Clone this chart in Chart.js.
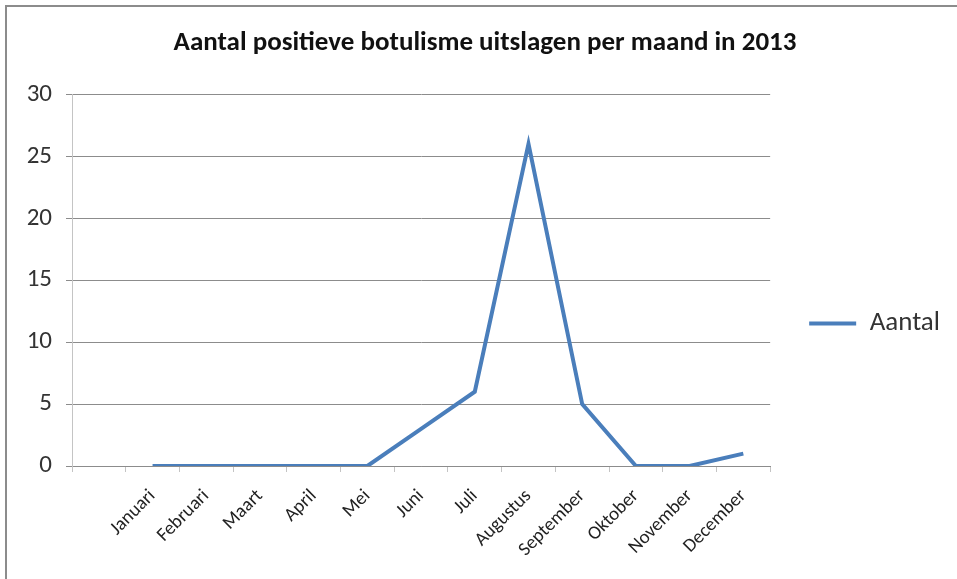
<!DOCTYPE html>
<html>
<head>
<meta charset="utf-8">
<script src="https://cdn.jsdelivr.net/npm/chart.js@4"></script>
<style>
  html, body { margin: 0; padding: 0; background: #fff; }
  #wrap { position: relative; width: 957px; height: 579px; overflow: hidden; }
  #frame { position: absolute; left: 5px; top: 5px; width: 1000px; height: 1000px; border: 2px solid #8c8c8c; box-sizing: border-box; }
  canvas { position: absolute; left: 0; top: 0; }
</style>
</head>
<body>
<div id="wrap">
  <div id="frame"></div>
  <canvas id="graph0" width="950" height="579"></canvas>
</div>
<script>
const months = ["Januari","Februari","Maart","April","Mei","Juni","Juli","Augustus","September","Oktober","November","December"]
const aantal = [0,0,0,0,0,3,6,26,5,0,0,1]
const yTicks = [0,5,10,15,20,25,30]

const titleText = "Aantal positieve botulisme uitslagen per maand in 2013"
const seriesName = "Aantal"
const lineColor = "#4a7ebb"
const gridColor = "#8c8c8c"
const axisColor = "#c4c4c4"
const textColor = "#333"
const font = "Calibri, Carlito, 'Open Sans', sans-serif"

// Excel left an empty slot before Januari
let labels = [""].concat(months)
let values = [null].concat(aantal)

function main(){
    new Chart("graph0", {
        type: "line",
        data: {
            labels: labels,
            datasets: [{
                label: seriesName,
                data: values,
                borderColor: lineColor,
                backgroundColor: lineColor,
                borderWidth: 4,
                pointRadius: 0,
                tension: 0,
                spanGaps: false
            }]
        },
        options: {
            responsive: false,
            animation: false,
            layout: {padding: {left: 20, right: 0, top: 0, bottom: 0}},
            plugins: {
                title: {
                    display: true,
                    text: titleText,
                    color: "#111",
                    font: {family: font, size: 27, weight: "bold"},
                    padding: {top: 27, bottom: 35}
                },
                legend: {
                    position: "right",
                    // blank title only pushes the entry down to where Excel put it
                    title: {
                        display: true,
                        text: " ",
                        color: textColor,
                        font: {size: 10},
                        padding: {top: 28, bottom: 28}
                    },
                    labels: {
                        color: textColor,
                        font: {family: font, size: 27},
                        boxWidth: 47,
                        boxHeight: 0,
                        padding: 39,
                        generateLabels: function(chart){
                            return [{
                                text: seriesName,
                                fontColor: textColor,
                                strokeStyle: lineColor,
                                fillStyle: lineColor,
                                lineWidth: 4,
                                datasetIndex: 0
                            }]
                        }
                    }
                },
                tooltip: {enabled: false}
            },
            scales: {
                x: {
                    offset: true,
                    grid: {
                        offset: true,
                        drawOnChartArea: false,
                        drawTicks: true,
                        tickLength: 6,
                        color: axisColor
                    },
                    border: {color: gridColor, width: 1},
                    ticks: {
                        minRotation: 45,
                        maxRotation: 45,
                        autoSkip: false,
                        padding: 13,
                        color: "#222",
                        font: {family: font, size: 19}
                    },
                    afterFit: function(scale){ scale.height = 113 }
                },
                y: {
                    min: 0,
                    max: 30,
                    afterBuildTicks: function(scale){
                        scale.ticks = yTicks.map(v => ({value: v}))
                    },
                    grid: {
                        color: gridColor,
                        tickLength: 6,
                        drawTicks: true
                    },
                    border: {color: axisColor, width: 1},
                    ticks: {
                        padding: 14,
                        color: textColor,
                        font: {family: font, size: 25}
                    },
                    afterFit: function(scale){ scale.width = 52 }
                }
            }
        }
    })
}

main()
</script>
</body>
</html>
